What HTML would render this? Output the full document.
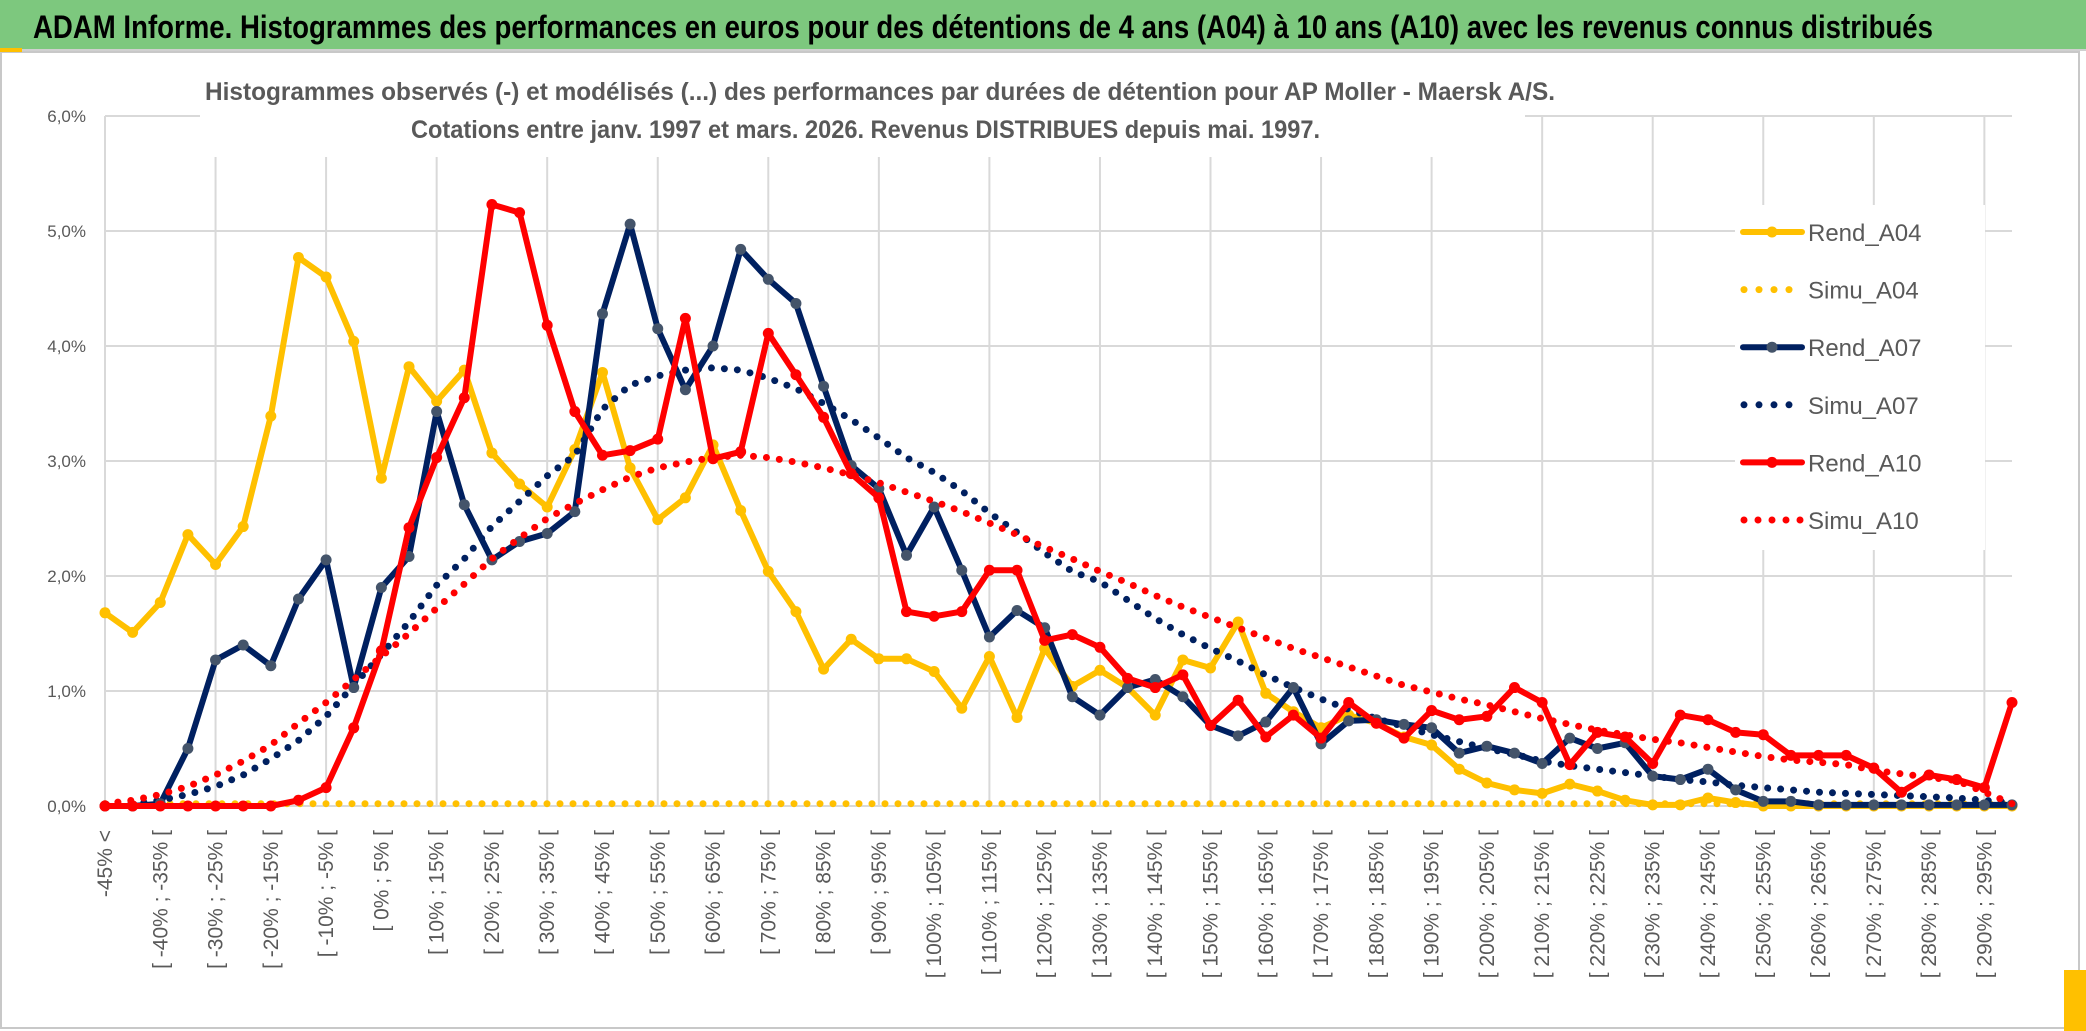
<!DOCTYPE html>
<html><head><meta charset="utf-8">
<style>
html,body{margin:0;padding:0;background:#fff;}
svg{display:block;font-family:"Liberation Sans",sans-serif;}
</style></head>
<body>
<svg id="chart" width="2086" height="1031" viewBox="0 0 2086 1031">
  <rect x="0" y="0" width="2086" height="1031" fill="#ffffff"/>
  <rect x="0" y="0" width="2086" height="49" fill="#7dc87e"/>
  <line x1="0" y1="50" x2="2086" y2="50" stroke="#d0d0d0" stroke-width="2"/>
  <text x="33" y="38" font-size="32" font-weight="bold" fill="#000" textLength="1900" lengthAdjust="spacingAndGlyphs">ADAM Informe. Histogrammes des performances en euros pour des détentions de 4 ans (A04) à 10 ans (A10) avec les revenus connus distribués</text>
  <rect x="1" y="52" width="2078" height="976" fill="none" stroke="#c8c8c8" stroke-width="2"/>
  <rect x="2064" y="970" width="22" height="61" fill="#ffc000"/>
  <rect x="0" y="48" width="22" height="4" fill="#ffc000"/>
  <g id="grid"></g>
  <rect x="200" y="100" width="1325" height="57" fill="#fff"/>
  <text x="205" y="100" font-size="25" font-weight="bold" fill="#595959" textLength="1350" lengthAdjust="spacingAndGlyphs">Histogrammes observés (-) et modélisés (...) des performances par durées de détention pour AP Moller - Maersk A/S.</text>
  <text x="411" y="138" font-size="25" font-weight="bold" fill="#595959" textLength="909" lengthAdjust="spacingAndGlyphs">Cotations entre janv. 1997 et mars. 2026. Revenus DISTRIBUES depuis mai. 1997.</text>
  <g id="yaxis"></g>
  <g id="xaxis"></g>
  <g id="series"></g>
  <g id="legend"></g>
</svg>
<script>
const rendA04 = [1.68,1.51,1.77,2.36,2.10,2.43,3.39,4.77,4.60,4.04,2.85,3.82,3.52,3.79,3.07,2.80,2.60,3.10,3.77,2.94,2.49,2.68,3.14,2.57,2.04,1.69,1.19,1.45,1.28,1.28,1.17,0.85,1.30,0.77,1.37,1.04,1.18,1.03,0.79,1.27,1.20,1.60,0.98,0.82,0.68,0.79,0.72,0.60,0.53,0.32,0.20,0.14,0.11,0.19,0.13,0.05,0.01,0.01,0.07,0.03,0,0,0,0,0,0,0,0,0,0];
const simuA04 = [0.02,0.02,0.02,0.02,0.02,0.02,0.02,0.02,0.02,0.02,0.02,0.02,0.02,0.02,0.02,0.02,0.02,0.02,0.02,0.02,0.02,0.02,0.02,0.02,0.02,0.02,0.02,0.02,0.02,0.02,0.02,0.02,0.02,0.02,0.02,0.02,0.02,0.02,0.02,0.02,0.02,0.02,0.02,0.02,0.02,0.02,0.02,0.02,0.02,0.02,0.02,0.02,0.02,0.02,0.02,0.02,0.02,0.02,0.02,0.02,0.02,0.02,0.02,0.02,0.02,0.02,0.02,0.02,0.02,0.02];
const rendA07 = [0,0,0.02,0.50,1.27,1.40,1.22,1.80,2.14,1.03,1.90,2.17,3.43,2.62,2.14,2.30,2.37,2.56,4.28,5.06,4.15,3.62,4.00,4.84,4.58,4.37,3.65,2.96,2.76,2.18,2.60,2.05,1.47,1.70,1.55,0.95,0.79,1.03,1.10,0.95,0.70,0.61,0.73,1.03,0.54,0.74,0.75,0.71,0.68,0.46,0.52,0.46,0.37,0.59,0.50,0.55,0.26,0.23,0.32,0.14,0.04,0.04,0.01,0.01,0.01,0.01,0.01,0.01,0.01,0.01];
const simuA07 = [0.01,0.02,0.05,0.10,0.17,0.27,0.41,0.57,0.78,1.05,1.32,1.60,1.92,2.15,2.43,2.65,2.87,3.05,3.45,3.66,3.74,3.79,3.81,3.79,3.72,3.63,3.50,3.36,3.20,3.03,2.90,2.74,2.55,2.38,2.20,2.04,1.95,1.79,1.63,1.49,1.37,1.26,1.14,1.03,0.93,0.84,0.76,0.69,0.62,0.56,0.50,0.45,0.39,0.35,0.32,0.29,0.26,0.23,0.21,0.18,0.16,0.14,0.12,0.11,0.10,0.09,0.08,0.07,0.05,0.03];
const rendA10 = [0,0,0,0,0,0,0,0.05,0.16,0.68,1.35,2.42,3.03,3.55,5.23,5.16,4.18,3.43,3.05,3.09,3.19,4.24,3.02,3.08,4.11,3.75,3.38,2.89,2.68,1.69,1.65,1.69,2.05,2.05,1.44,1.49,1.38,1.11,1.03,1.14,0.70,0.92,0.60,0.79,0.59,0.90,0.72,0.59,0.83,0.75,0.78,1.03,0.90,0.36,0.64,0.60,0.37,0.79,0.75,0.64,0.62,0.44,0.44,0.44,0.33,0.12,0.27,0.23,0.16,0.90];
const simuA10 = [0.02,0.05,0.10,0.17,0.27,0.39,0.53,0.72,0.90,1.10,1.30,1.50,1.72,1.93,2.15,2.33,2.50,2.63,2.75,2.86,2.94,2.99,3.03,3.05,3.03,2.99,2.94,2.88,2.81,2.73,2.65,2.56,2.46,2.36,2.25,2.15,2.04,1.94,1.83,1.73,1.64,1.55,1.46,1.37,1.29,1.21,1.13,1.05,0.99,0.93,0.88,0.82,0.76,0.71,0.66,0.62,0.58,0.55,0.51,0.47,0.43,0.40,0.38,0.36,0.31,0.28,0.25,0.22,0.12,0.02];
const yTicks = [0,1,2,3,4,5,6];
const yTickLabels = ["0,0%","1,0%","2,0%","3,0%","4,0%","5,0%","6,0%"];
const categories = ["-45% <"];
for (let a = -45; a < 300; a += 5) categories.push("[ " + a + "% ; " + (a + 5) + "% [");
const legendNames = ["Rend_A04","Simu_A04","Rend_A07","Simu_A07","Rend_A10","Simu_A10"];

const NS = "http://www.w3.org/2000/svg";
const X0 = 105, X1 = 2012, Y0 = 806, PERPCT = 115;
const n = categories.length;
function xs(i){ return X0 + (X1 - X0) * i / (n - 1); }
function ys(v){ return Y0 - v * PERPCT; }
function mk(tag, attrs, parent){
  const e = document.createElementNS(NS, tag);
  for (const k in attrs) e.setAttribute(k, attrs[k]);
  parent.appendChild(e);
  return e;
}
const grid = document.getElementById('grid');
for (let i = 0; i < n; i += 4) {
  const l = mk('line', {x1: xs(i), x2: xs(i), y1: ys(6), y2: Y0, stroke: '#d9d9d9', 'stroke-width': 2}, grid);
  
  
}
const yaxis = document.getElementById('yaxis');
yTicks.forEach((t, k) => {
  const l = mk('line', {x1: X0, x2: X1, y1: ys(t), y2: ys(t), stroke: '#d9d9d9', 'stroke-width': 2}, grid);
  
  
  const tx = mk('text', {x: 86, y: ys(t) + 6, 'font-size': 17, fill: '#595959', 'text-anchor': 'end'}, yaxis);
  tx.textContent = yTickLabels[k];
  
  
});
const xaxis = document.getElementById('xaxis');
categories.forEach((c, i) => {
  if (i % 2) return;
  const x = xs(i) + 7;
  const tx = mk('text', {x: x, y: 830, 'font-size': 21, fill: '#595959', 'text-anchor': 'end', transform: 'rotate(-90 ' + x + ' 830)'}, xaxis);
  tx.textContent = c;
  
  
});
const series = document.getElementById('series');
function pts(arr){ return arr.map((v, i) => xs(i).toFixed(1) + ',' + ys(v).toFixed(1)).join(' '); }
function dotted(arr, color, name){
  const p = mk('polyline', {points: pts(arr), fill: 'none', stroke: color, 'stroke-width': 7, 'stroke-linecap': 'round', 'stroke-dasharray': '0 13'}, series);
  
  
}
function solid(arr, color, mcolor, name){
  const g = mk('g', {}, series);
  
  
  mk('polyline', {points: pts(arr), fill: 'none', stroke: color, 'stroke-width': 6, 'stroke-linejoin': 'round'}, g);
  arr.forEach((v, i) => {
    const c = mk('circle', {cx: xs(i), cy: ys(v), r: 5.5, fill: mcolor}, g);
    
    
  });
}
dotted(simuA04, '#ffc000', 'simu-a04-line');
solid(rendA04, '#ffc000', '#ffc000', 'rend-a04-line');
dotted(simuA07, '#002060', 'simu-a07-line');
solid(rendA07, '#002060', '#44546a', 'rend-a07-line');
dotted(simuA10, '#ff0000', 'simu-a10-line');
solid(rendA10, '#ff0000', '#ff0000', 'rend-a10-line');

const legend = document.getElementById('legend');
const lg = mk('rect', {x: 1735, y: 205, width: 250, height: 345, fill: '#fff'}, legend);


const lcolors = ['#ffc000','#ffc000','#002060','#002060','#ff0000','#ff0000'];
const lmark = ['#ffc000',null,'#44546a',null,'#ff0000',null];
legendNames.forEach((nm, k) => {
  const y = 232 + k * 57.6;
  const g = mk('g', {}, legend);
  
  
  if (lmark[k]) {
    mk('line', {x1: 1743, x2: 1802, y1: y, y2: y, stroke: lcolors[k], 'stroke-width': 6, 'stroke-linecap': 'round'}, g);
    mk('circle', {cx: 1772, cy: y, r: 5.5, fill: lmark[k]}, g);
  } else {
    const cnt = k === 5 ? 5 : 4;
    const sp = k === 5 ? 14 : 15;
    for (let d = 0; d < cnt; d++) mk('circle', {cx: 1744 + d * sp, cy: y, r: 3.5, fill: lcolors[k]}, g);
  }
  const t = mk('text', {x: 1808, y: y + 9, 'font-size': 24, fill: '#595959'}, g);
  t.textContent = nm;
});
</script>
</body></html>
